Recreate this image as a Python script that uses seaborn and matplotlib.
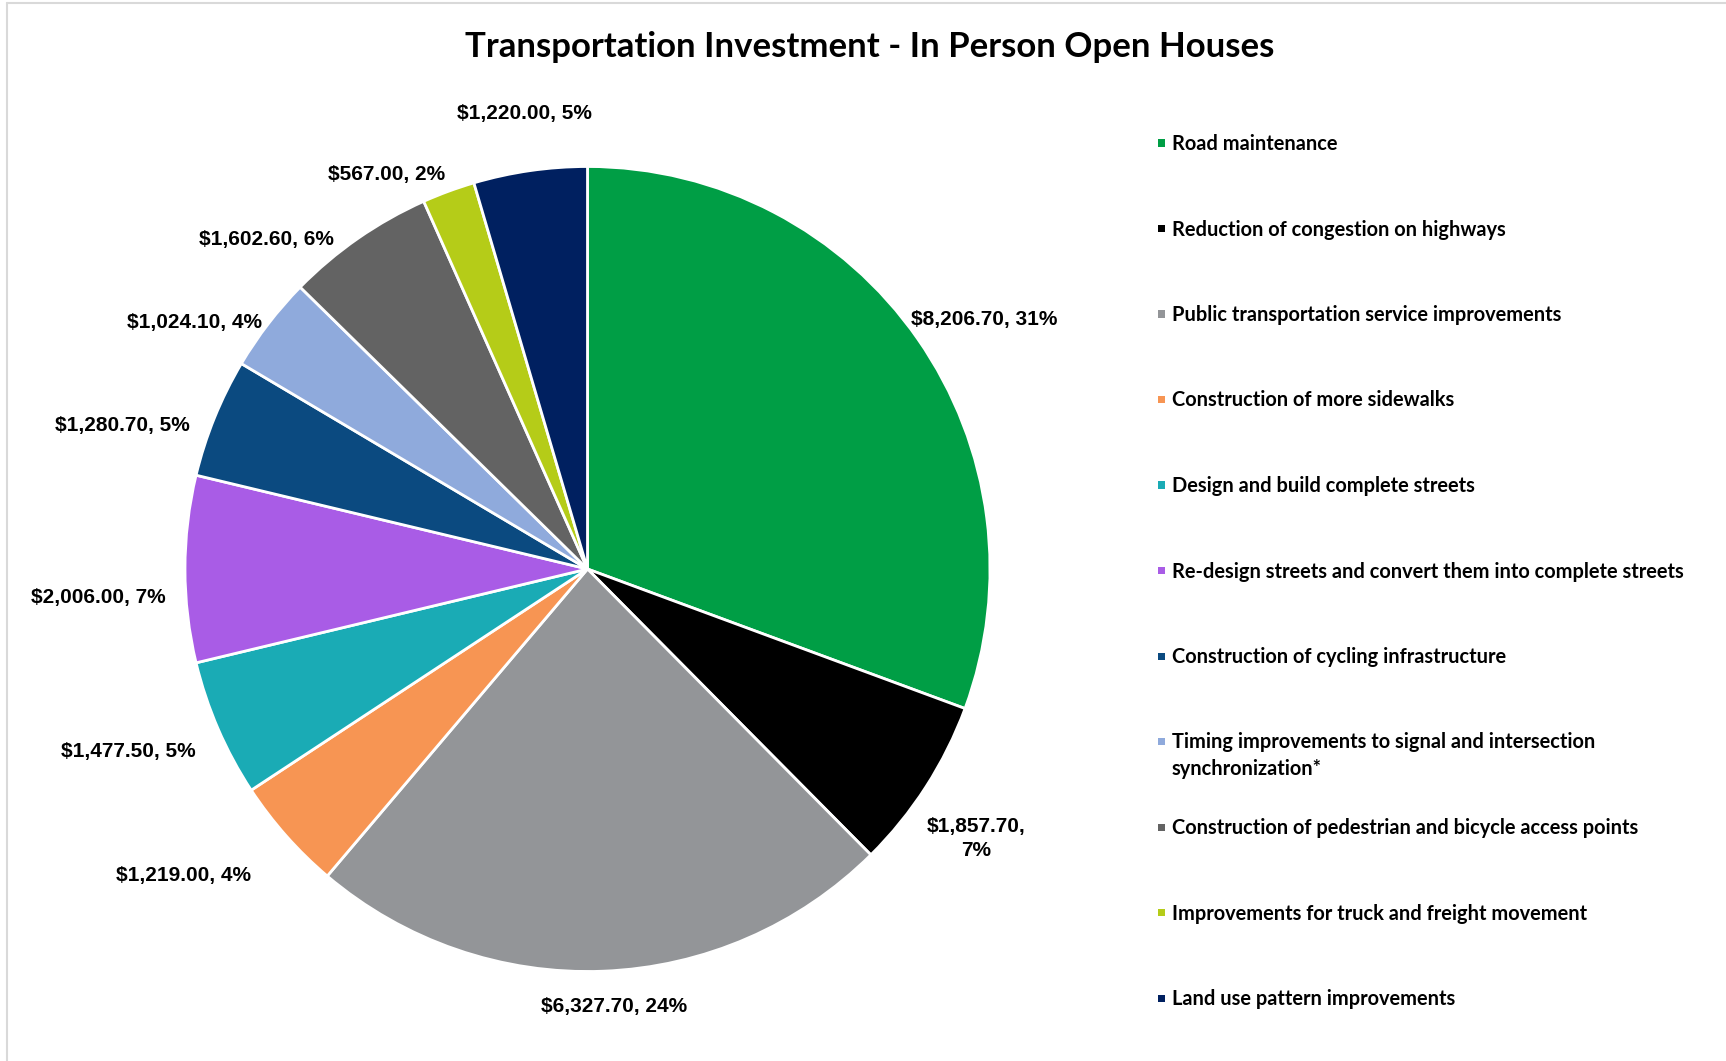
import numpy as np
import matplotlib
matplotlib.use("Agg")
import matplotlib.pyplot as plt
from matplotlib.lines import Line2D
from matplotlib.patches import Rectangle
import seaborn as sns

# ---------------- data ----------------
categories = [
    "Road maintenance",
    "Reduction of congestion on highways",
    "Public transportation service improvements",
    "Construction of more sidewalks",
    "Design and build complete streets",
    "Re-design streets and convert them into complete streets",
    "Construction of cycling infrastructure",
    "Timing improvements to signal and intersection\nsynchronization*",
    "Construction of pedestrian and bicycle access points",
    "Improvements for truck and freight movement",
    "Land use pattern improvements",
]
values = [8206.70, 1857.70, 6327.70, 1219.00, 1477.50, 2006.00,
          1280.70, 1024.10, 1602.60, 567.00, 1220.00]
percent_labels = [31, 7, 24, 4, 5, 7, 5, 4, 6, 2, 5]
colors = ["#009E45", "#000000", "#939598", "#F79553", "#1AABB5", "#A95CE6",
          "#0B4A80", "#8FAADC", "#636363", "#B5CC18", "#002060"]
title = "Transportation Investment - In Person Open Houses"

# label layout (radial factor, angular nudge in degrees, line break)
label_r = [1.165, 1.175, 1.09, 1.26, 1.227, 1.217, 1.21, 1.153, 1.143, 1.10, 1.143]
label_dt = [-2.7, -2.0, 1.2, -4.3, -1.7, 3.3, 4.9, 5.5, 9.4, 6.8, -0.3]
label_break = [False, True, False, False, False, False, False, False, False, False, False]

# ---------------- figure ----------------
sns.set_theme(style="white")
W, H = 1726, 1061
fig = plt.figure(figsize=(W / 100, H / 100), dpi=100)
fig.patch.set_facecolor("white")

cx, cy, R = 587.5, 569.0, 402.5
ax = fig.add_axes([(cx - R) / W, (H - cy - R) / H, 2 * R / W, 2 * R / H])
ax.axis("off")

palette = sns.color_palette(colors)
wedges, _ = ax.pie(values, colors=palette, startangle=90, counterclock=False,
                   radius=1.0, wedgeprops=dict(edgecolor="white", linewidth=2.0))
ax.set_xlim(-1, 1)
ax.set_ylim(-1, 1)

label_font = "Liberation Sans"
for i, w in enumerate(wedges):
    mid = 0.5 * (w.theta1 + w.theta2) + label_dt[i]
    a = np.deg2rad(mid)
    x = label_r[i] * np.cos(a)
    y = label_r[i] * np.sin(a)
    sep = ",\n" if label_break[i] else ", "
    txt = f"${values[i]:,.2f}{sep}{percent_labels[i]}%"
    ax.text(x, y, txt, ha="center", va="center", fontsize=15,
            fontweight="bold", family=label_font, color="black",
            linespacing=1.35, clip_on=False)

# title
fig.text(870 / W, 1 - 47 / H, title, ha="center", va="center",
         fontsize=25, fontweight="bold", family="Lato", color="black")

# legend (manual layout with equal slots)
y0, step, line_px = 143.0, 85.5, 26.4
for i, (lab, col) in enumerate(zip(categories, colors)):
    ys = y0 + i * step
    fig.patches.append(Rectangle(((1161 - 3.5) / W, 1 - (ys + 3.5) / H), 7 / W, 7 / H,
                                 transform=fig.transFigure, facecolor=col,
                                 edgecolor="none"))
    for k, line in enumerate(lab.split("\n")):
        fig.text(1172 / W, 1 - (ys + 7 + k * line_px) / H, line, ha="left",
                 va="baseline", fontsize=14.4, fontweight="bold", family="Lato",
                 color="black")

# outer frame (light gray, partially visible as in reference)
fig.add_artist(Line2D([7 / W, 1.0], [1 - 3 / H, 1 - 3 / H], transform=fig.transFigure,
                      color="#D9D9D9", linewidth=1.5))
fig.add_artist(Line2D([7 / W, 7 / W], [0.0, 1 - 3 / H], transform=fig.transFigure,
                      color="#D9D9D9", linewidth=1.5))

fig.savefig("out.png", dpi=100, facecolor="white")
